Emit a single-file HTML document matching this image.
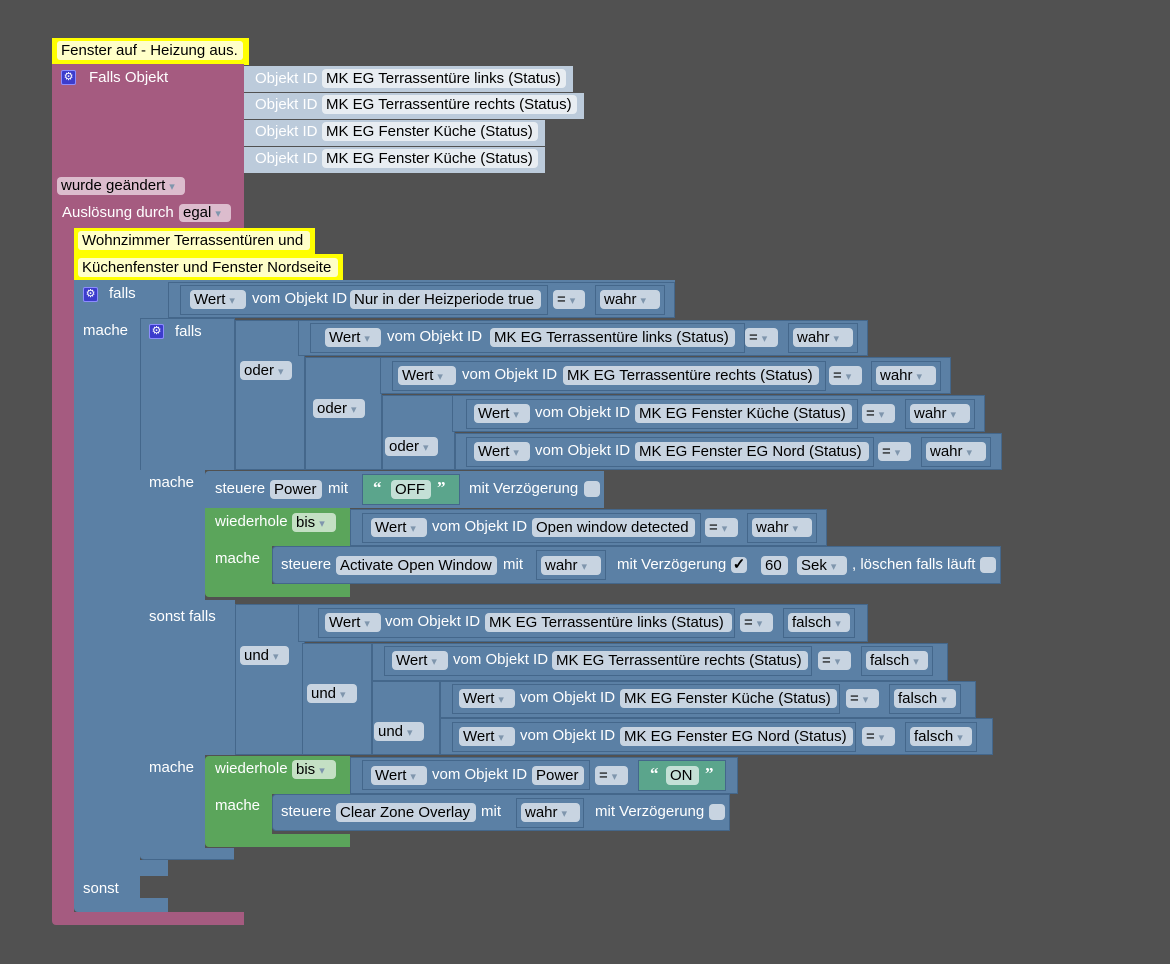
<!DOCTYPE html>
<html><head><meta charset="utf-8">
<style>
body{margin:0;width:1170px;height:964px;background:#515151;position:relative;overflow:hidden;font-family:"Liberation Sans",sans-serif;font-size:15px}
div{position:absolute;box-sizing:border-box;white-space:nowrap}
.b{background:#5b80a5}
.n{background:#5b80a5;border:1px solid #44678b}
.p{background:#a55b80}
.g{background:#5ba55b}
.s{background:#5ba58c;border:1px solid #44678b}
.o{background:#bccbdb}
.f{height:19px;line-height:19px;background:#c8d4e1;border-radius:4px;color:#000;padding:0 4px}
.fo{height:19px;line-height:19px;background:#e8edf2;border-radius:4px;color:#000;padding:0 4px}
.fp{height:18px;line-height:18px;background:#dcbccd;border-radius:4px;color:#000;padding:0 4px}
.fg{height:19px;line-height:19px;background:#c4e0c4;border-radius:4px;color:#000;padding:0 4px}
.fs{height:19px;line-height:19px;background:#c4e0d6;border-radius:4px;color:#000;padding:0 4px}
.d::after{content:"▾";color:#7f96ad;margin-left:4px;font-size:11px}
.t{color:#fff;line-height:18px}
.c{background:#ffff00}
.ci{background:#ffffc8;border-radius:3px;color:#000;height:19px;line-height:19px;padding:0 4px}
.k{width:16px;height:16px;background:#c8d4e1;border-radius:4px;text-align:center;line-height:16px;color:#000}
.gear{width:15px;height:15px;background:#3c3ccc;border:1px solid #8c8cff;border-radius:2px;color:#fff;font-size:11px;line-height:13px;text-align:center}
.q{color:#fff;font-weight:bold;font-size:17px;font-family:"Liberation Serif",serif;line-height:18px}
</style></head><body>

<div class="c" style="left:52px;top:38px;width:197px;height:27px"></div>
<div class="ci" style="left:57px;top:41px;width:186px">Fenster auf - Heizung aus.</div>

<div class="p" style="left:52px;top:64px;width:192px;height:164px"></div>
<div class="p" style="left:52px;top:228px;width:22px;height:690px"></div>
<div class="p" style="left:52px;top:912px;width:192px;height:13px;border-radius:0 0 0 4px"></div>
<div class="gear" style="left:61px;top:70px">⚙</div>
<div class="t" style="left:89px;top:69px">Falls Objekt</div>

<div class="o" style="left:244px;top:66px;width:329px;height:26px"></div>
<div class="t" style="left:255px;top:70px">Objekt ID</div>
<div class="fo" style="left:322px;top:69px;width:244px">MK EG Terrassentüre links (Status)</div>
<div class="o" style="left:244px;top:93px;width:340px;height:26px"></div>
<div class="t" style="left:255px;top:96px">Objekt ID</div>
<div class="fo" style="left:322px;top:95px;width:255px">MK EG Terrassentüre rechts (Status)</div>
<div class="o" style="left:244px;top:120px;width:301px;height:26px"></div>
<div class="t" style="left:255px;top:123px">Objekt ID</div>
<div class="fo" style="left:322px;top:122px;width:216px">MK EG Fenster Küche (Status)</div>
<div class="o" style="left:244px;top:147px;width:301px;height:26px"></div>
<div class="t" style="left:255px;top:150px">Objekt ID</div>
<div class="fo" style="left:322px;top:149px;width:216px">MK EG Fenster Küche (Status)</div>

<div class="fp d" style="left:57px;top:177px;width:128px">wurde geändert</div>
<div class="t" style="left:62px;top:204px">Auslösung durch</div>
<div class="fp d" style="left:179px;top:204px;width:52px">egal</div>

<div class="c" style="left:74px;top:228px;width:241px;height:27px"></div>
<div class="ci" style="left:78px;top:231px;width:232px">Wohnzimmer Terrassentüren und</div>
<div class="c" style="left:74px;top:254px;width:269px;height:27px"></div>
<div class="ci" style="left:78px;top:258px;width:260px">Küchenfenster und Fenster Nordseite</div>

<div class="b" style="left:74px;top:280px;width:601px;height:38px"></div>
<div class="b" style="left:74px;top:318px;width:66px;height:594px;border-radius:0 0 0 4px"></div>
<div class="b" style="left:140px;top:860px;width:28px;height:16px"></div>
<div class="b" style="left:140px;top:898px;width:28px;height:14px"></div>
<div class="gear" style="left:83px;top:287px">⚙</div>
<div class="t" style="left:109px;top:285px">falls</div>
<div class="t" style="left:83px;top:322px">mache</div>
<div class="t" style="left:83px;top:880px">sonst</div>

<div class="n" style="left:168px;top:282px;width:507px;height:36px"></div>
<div class="n" style="left:180px;top:285px;width:368px;height:30px"></div>
<div class="f d" style="left:190px;top:290px;width:56px">Wert</div>
<div class="t" style="left:252px;top:290px">vom Objekt ID</div>
<div class="f" style="left:350px;top:290px;width:191px">Nur in der Heizperiode true</div>
<div class="f d" style="left:553px;top:290px;width:32px">=</div>
<div class="n" style="left:595px;top:285px;width:70px;height:30px"></div>
<div class="f d" style="left:600px;top:290px;width:60px">wahr</div>

<div class="b" style="left:140px;top:318px;width:95px;height:152px;border:1px solid #44678b;border-bottom:none"></div>
<div class="b" style="left:140px;top:470px;width:65px;height:130px"></div>
<div class="b" style="left:140px;top:600px;width:95px;height:155px"></div>
<div class="b" style="left:140px;top:755px;width:65px;height:93px"></div>
<div class="b" style="left:140px;top:848px;width:94px;height:12px;border-radius:0 0 0 4px;border-bottom:1px solid #44678b"></div>
<div class="gear" style="left:149px;top:324px">⚙</div>
<div class="t" style="left:175px;top:323px">falls</div>
<div class="t" style="left:149px;top:474px">mache</div>
<div class="t" style="left:149px;top:608px">sonst falls</div>
<div class="t" style="left:149px;top:759px">mache</div>

<div class="n" style="left:235px;top:320px;width:70px;height:150px"></div>
<div class="f d" style="left:240px;top:361px;width:52px">oder</div>
<div class="n" style="left:305px;top:357px;width:77px;height:113px"></div>
<div class="f d" style="left:313px;top:399px;width:52px">oder</div>
<div class="n" style="left:382px;top:395px;width:73px;height:75px"></div>
<div class="f d" style="left:385px;top:437px;width:53px">oder</div>

<div class="n" style="left:298px;top:320px;width:570px;height:36px"></div>
<div class="n" style="left:310px;top:323px;width:435px;height:30px"></div>
<div class="f d" style="left:325px;top:328px;width:56px">Wert</div>
<div class="t" style="left:387px;top:328px">vom Objekt ID</div>
<div class="f" style="left:490px;top:328px;width:245px">MK EG Terrassentüre links (Status)</div>
<div class="f d" style="left:745px;top:328px;width:33px">=</div>
<div class="n" style="left:788px;top:323px;width:70px;height:30px"></div>
<div class="f d" style="left:793px;top:328px;width:60px">wahr</div>

<div class="n" style="left:380px;top:357px;width:571px;height:37px"></div>
<div class="n" style="left:392px;top:361px;width:434px;height:30px"></div>
<div class="f d" style="left:398px;top:366px;width:58px">Wert</div>
<div class="t" style="left:462px;top:366px">vom Objekt ID</div>
<div class="f" style="left:563px;top:366px;width:256px">MK EG Terrassentüre rechts (Status)</div>
<div class="f d" style="left:829px;top:366px;width:33px">=</div>
<div class="n" style="left:871px;top:361px;width:70px;height:30px"></div>
<div class="f d" style="left:876px;top:366px;width:60px">wahr</div>

<div class="n" style="left:452px;top:395px;width:533px;height:37px"></div>
<div class="n" style="left:466px;top:399px;width:392px;height:30px"></div>
<div class="f d" style="left:474px;top:404px;width:56px">Wert</div>
<div class="t" style="left:535px;top:404px">vom Objekt ID</div>
<div class="f" style="left:635px;top:404px;width:217px">MK EG Fenster Küche (Status)</div>
<div class="f d" style="left:862px;top:404px;width:33px">=</div>
<div class="n" style="left:905px;top:399px;width:70px;height:30px"></div>
<div class="f d" style="left:910px;top:404px;width:60px">wahr</div>

<div class="n" style="left:455px;top:433px;width:547px;height:37px"></div>
<div class="n" style="left:466px;top:437px;width:408px;height:30px"></div>
<div class="f d" style="left:474px;top:442px;width:56px">Wert</div>
<div class="t" style="left:535px;top:442px">vom Objekt ID</div>
<div class="f" style="left:635px;top:442px;width:234px">MK EG Fenster EG Nord (Status)</div>
<div class="f d" style="left:878px;top:442px;width:33px">=</div>
<div class="n" style="left:921px;top:437px;width:70px;height:30px"></div>
<div class="f d" style="left:926px;top:442px;width:60px">wahr</div>

<div class="b" style="left:205px;top:471px;width:399px;height:37px;border-radius:4px 0 0 0"></div>
<div class="t" style="left:215px;top:480px">steuere</div>
<div class="f" style="left:270px;top:480px;width:52px">Power</div>
<div class="t" style="left:328px;top:480px">mit</div>
<div class="s" style="left:362px;top:474px;width:98px;height:31px"></div>
<div class="q" style="left:373px;top:479px">“</div>
<div class="fs" style="left:391px;top:480px;width:40px">OFF</div>
<div class="q" style="left:437px;top:479px">”</div>
<div class="t" style="left:469px;top:480px">mit Verzögerung</div>
<div class="k" style="left:584px;top:481px"></div>

<div class="g" style="left:205px;top:508px;width:145px;height:38px"></div>
<div class="g" style="left:205px;top:546px;width:67px;height:39px"></div>
<div class="g" style="left:205px;top:584px;width:145px;height:13px;border-radius:0 0 0 4px"></div>
<div class="t" style="left:215px;top:513px">wiederhole</div>
<div class="fg d" style="left:292px;top:513px;width:44px">bis</div>
<div class="t" style="left:215px;top:550px">mache</div>
<div class="n" style="left:350px;top:509px;width:477px;height:37px"></div>
<div class="n" style="left:362px;top:513px;width:339px;height:30px"></div>
<div class="f d" style="left:371px;top:518px;width:56px">Wert</div>
<div class="t" style="left:432px;top:518px">vom Objekt ID</div>
<div class="f" style="left:532px;top:518px;width:163px">Open window detected</div>
<div class="f d" style="left:705px;top:518px;width:33px">=</div>
<div class="n" style="left:747px;top:513px;width:70px;height:30px"></div>
<div class="f d" style="left:752px;top:518px;width:60px">wahr</div>

<div class="b" style="left:272px;top:546px;width:729px;height:38px;border:1px solid #44678b;border-radius:4px 0 0 4px"></div>
<div class="t" style="left:281px;top:556px">steuere</div>
<div class="f" style="left:336px;top:556px;width:161px">Activate Open Window</div>
<div class="t" style="left:503px;top:556px">mit</div>
<div class="n" style="left:536px;top:550px;width:70px;height:30px"></div>
<div class="f d" style="left:541px;top:556px;width:60px">wahr</div>
<div class="t" style="left:617px;top:556px">mit Verzögerung</div>
<div class="k" style="left:731px;top:557px;font-weight:bold">✓</div>
<div class="f" style="left:761px;top:556px;width:27px">60</div>
<div class="f d" style="left:797px;top:556px;width:50px">Sek</div>
<div class="t" style="left:852px;top:556px">, löschen falls läuft</div>
<div class="k" style="left:980px;top:557px"></div>

<div class="n" style="left:235px;top:604px;width:70px;height:151px"></div>
<div class="f d" style="left:240px;top:646px;width:49px">und</div>
<div class="n" style="left:302px;top:643px;width:70px;height:112px"></div>
<div class="f d" style="left:307px;top:684px;width:50px">und</div>
<div class="n" style="left:372px;top:681px;width:68px;height:74px"></div>
<div class="f d" style="left:374px;top:722px;width:50px">und</div>

<div class="n" style="left:298px;top:604px;width:570px;height:38px"></div>
<div class="n" style="left:318px;top:608px;width:417px;height:30px"></div>
<div class="f d" style="left:325px;top:613px;width:56px">Wert</div>
<div class="t" style="left:385px;top:613px">vom Objekt ID</div>
<div class="f" style="left:485px;top:613px;width:247px">MK EG Terrassentüre links (Status)</div>
<div class="f d" style="left:740px;top:613px;width:33px">=</div>
<div class="n" style="left:783px;top:608px;width:72px;height:30px"></div>
<div class="f d" style="left:788px;top:613px;width:62px">falsch</div>

<div class="n" style="left:372px;top:643px;width:576px;height:38px"></div>
<div class="n" style="left:384px;top:646px;width:428px;height:30px"></div>
<div class="f d" style="left:392px;top:651px;width:56px">Wert</div>
<div class="t" style="left:453px;top:651px">vom Objekt ID</div>
<div class="f" style="left:552px;top:651px;width:256px">MK EG Terrassentüre rechts (Status)</div>
<div class="f d" style="left:818px;top:651px;width:33px">=</div>
<div class="n" style="left:861px;top:646px;width:72px;height:30px"></div>
<div class="f d" style="left:866px;top:651px;width:62px">falsch</div>

<div class="n" style="left:440px;top:681px;width:536px;height:37px"></div>
<div class="n" style="left:452px;top:684px;width:388px;height:30px"></div>
<div class="f d" style="left:459px;top:689px;width:56px">Wert</div>
<div class="t" style="left:520px;top:689px">vom Objekt ID</div>
<div class="f" style="left:620px;top:689px;width:217px">MK EG Fenster Küche (Status)</div>
<div class="f d" style="left:846px;top:689px;width:33px">=</div>
<div class="n" style="left:889px;top:684px;width:72px;height:30px"></div>
<div class="f d" style="left:894px;top:689px;width:62px">falsch</div>

<div class="n" style="left:440px;top:718px;width:553px;height:37px"></div>
<div class="n" style="left:452px;top:722px;width:404px;height:30px"></div>
<div class="f d" style="left:459px;top:727px;width:56px">Wert</div>
<div class="t" style="left:520px;top:727px">vom Objekt ID</div>
<div class="f" style="left:620px;top:727px;width:233px">MK EG Fenster EG Nord (Status)</div>
<div class="f d" style="left:862px;top:727px;width:33px">=</div>
<div class="n" style="left:905px;top:722px;width:72px;height:30px"></div>
<div class="f d" style="left:910px;top:727px;width:62px">falsch</div>

<div class="g" style="left:205px;top:756px;width:145px;height:38px;border-radius:4px 0 0 0"></div>
<div class="g" style="left:205px;top:794px;width:67px;height:41px"></div>
<div class="g" style="left:205px;top:834px;width:145px;height:13px;border-radius:0 0 0 4px"></div>
<div class="t" style="left:215px;top:760px">wiederhole</div>
<div class="fg d" style="left:292px;top:760px;width:44px">bis</div>
<div class="t" style="left:215px;top:797px">mache</div>
<div class="n" style="left:350px;top:757px;width:388px;height:37px"></div>
<div class="n" style="left:362px;top:760px;width:228px;height:30px"></div>
<div class="f d" style="left:371px;top:766px;width:56px">Wert</div>
<div class="t" style="left:432px;top:766px">vom Objekt ID</div>
<div class="f" style="left:532px;top:766px;width:52px">Power</div>
<div class="f d" style="left:595px;top:766px;width:33px">=</div>
<div class="s" style="left:638px;top:760px;width:88px;height:31px"></div>
<div class="q" style="left:650px;top:765px">“</div>
<div class="fs" style="left:666px;top:766px;width:33px">ON</div>
<div class="q" style="left:705px;top:765px">”</div>

<div class="b" style="left:272px;top:794px;width:458px;height:37px;border:1px solid #44678b;border-radius:4px 0 0 4px"></div>
<div class="t" style="left:281px;top:803px">steuere</div>
<div class="f" style="left:336px;top:803px;width:140px">Clear Zone Overlay</div>
<div class="t" style="left:481px;top:803px">mit</div>
<div class="n" style="left:516px;top:798px;width:68px;height:30px"></div>
<div class="f d" style="left:521px;top:803px;width:59px">wahr</div>
<div class="t" style="left:595px;top:803px">mit Verzögerung</div>
<div class="k" style="left:709px;top:804px"></div>

</body></html>
